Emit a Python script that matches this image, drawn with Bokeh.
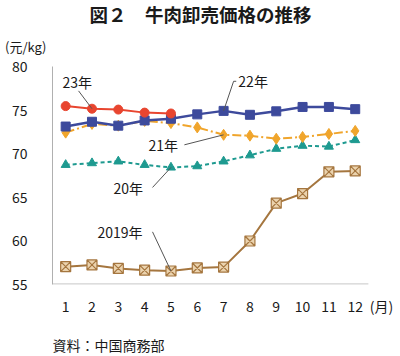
from bokeh.plotting import figure
from bokeh.models import Range1d, FixedTicker, Label, LinearAxis
from bokeh.layouts import column
from bokeh.embed import file_html
from bokeh.resources import INLINE

months = list(range(1, 13))
month_labels = [str(m) for m in months]
unit_tick = 13
unit_x_label = "(月)"
unit_y_label = "(元/kg)"
y_ticks = [55, 60, 65, 70, 75, 80]
title_text = "図２　牛肉卸売価格の推移"
source_text = "資料：中国商務部"

v2019 = [57.0, 57.2, 56.8, 56.6, 56.5, 56.85, 56.95, 59.95, 64.3, 65.4, 67.9, 68.0]
v2020 = [68.7, 68.9, 69.1, 68.7, 68.4, 68.55, 69.1, 69.8, 70.55, 70.9, 70.8, 71.55]
v2021 = [72.4, 73.4, 73.2, 73.75, 73.5, 73.0, 72.15, 72.05, 71.7, 71.9, 72.25, 72.6]
v2022 = [73.1, 73.65, 73.2, 73.8, 74.0, 74.5, 74.9, 74.45, 74.85, 75.35, 75.35, 75.1]
v2023_m = [1, 2, 3, 4, 5]
v2023 = [75.45, 75.15, 75.05, 74.7, 74.6]

FONT = "Noto Sans CJK JP"
TXT = "#1a1a1a"
W = 400
LEFT = 52

def text_strip(h):
    # frame spans pixel columns LEFT..W, so x data == page pixel x
    f = figure(width=W, height=h, output_backend="svg", toolbar_location=None,
               x_axis_type=None, y_axis_type=None, title_location=None,
               x_range=Range1d(LEFT, W), y_range=Range1d(0, h),
               min_border_left=LEFT, min_border_right=0, min_border_top=0, min_border_bottom=0)
    f.outline_line_color = None
    f.background_fill_color = "white"
    f.border_fill_color = "white"
    return f

# ---- top strip: title and unit label
TOP_H = 56
top = text_strip(TOP_H)
top.add_layout(Label(x=200, y=TOP_H - 13, text=title_text, text_font=FONT, text_font_size="18.5px",
                     text_font_style="bold", text_color=TXT,
                     text_align="center", text_baseline="middle"))
unit_axis = LinearAxis(ticker=FixedTicker(ticks=[TOP_H - 47]),
                       major_label_overrides={TOP_H - 47: unit_y_label},
                       axis_line_color=None, major_tick_line_color=None,
                       minor_tick_line_color=None, major_label_standoff=0,
                       major_label_text_font=FONT, major_label_text_font_size="13px",
                       major_label_text_color=TXT)
top.add_layout(unit_axis, "left")

# ---- main chart
x_lo, x_hi = 0.5, 12.5
y_lo, y_hi = 55, 80

p = figure(width=W, height=262, output_backend="svg", toolbar_location=None,
           title_location=None,
           x_range=Range1d(x_lo, 13.72), y_range=Range1d(y_lo - 0.05, y_hi),
           min_border_left=LEFT, min_border_right=0, min_border_top=10, min_border_bottom=29)
p.outline_line_color = None
p.xgrid.grid_line_color = None
p.ygrid.grid_line_color = None
p.background_fill_color = "white"

for ax in (p.xaxis[0], p.yaxis[0]):
    ax.axis_line_color = "#b0b0b0"
    ax.axis_line_width = 1
    ax.major_tick_line_color = None
    ax.minor_tick_line_color = None
    ax.major_label_text_font = FONT
    ax.major_label_text_font_size = "14px"
    ax.major_label_text_color = TXT
p.xaxis.axis_line_color = None
p.xaxis.ticker = FixedTicker(ticks=months + [unit_tick])
ov = {m: l for m, l in zip(months, month_labels)}
ov[unit_tick] = unit_x_label
p.xaxis.major_label_overrides = ov
p.xaxis.major_label_standoff = 5
p.yaxis.ticker = FixedTicker(ticks=y_ticks)
p.yaxis.major_label_standoff = 19

# x baseline limited to the month span
p.line([x_lo, x_hi], [y_lo, y_lo], line_color="#b0b0b0", line_width=1)

# series
p.line(months, v2019, line_color="#A5763F", line_width=2)
p.scatter(months, v2019, marker="square_x", size=10, line_color="#A5763F",
          fill_color="#EBD3AE", line_width=1.2)

p.line(months, v2020, line_color="#1E9A90", line_width=2, line_dash="4 3")
p.scatter(months, v2020, marker="triangle", size=9, line_color="#1E9A90", fill_color="#1E9A90")

p.line(months, v2021, line_color="#F0A52C", line_width=2, line_dash="9 3 2 3")
p.scatter(months, v2021, marker="diamond", size=11, line_color="#F0A52C", fill_color="#F0A52C")

p.line(months, v2022, line_color="#3D4A9C", line_width=2.5)
p.scatter(months, v2022, marker="square", size=9, line_color="#3D4A9C", fill_color="#3D4A9C")

p.line(v2023_m, v2023, line_color="#E8452F", line_width=2)
p.scatter(v2023_m, v2023, marker="circle", size=9, line_color="#E8452F", fill_color="#E8452F")

# series labels with leader lines
LC = "#555555"
def series_label(text, tx, ty, lx, ly, px, py, mid=None):
    p.add_layout(Label(x=tx, y=ty, text=text, text_font=FONT, text_font_size="14px",
                       text_color=TXT, text_baseline="middle", text_align="left"))
    xs = [lx] + ([mid[0]] if mid else []) + [px]
    ys = [ly] + ([mid[1]] if mid else []) + [py]
    p.line(xs, ys, line_color=LC, line_width=1)

series_label("23年", 0.88, 78.2, 1.49, 77.2, 2, v2023[1])
series_label("22年", 7.56, 78.3, 7.48, 78.3, 7, v2022[6], mid=(7.38, 78.3))
series_label("21年", 4.15, 71.0, 5.51, 71.0, 7, v2021[6])
series_label("20年", 2.82, 66.0, 4.3, 66.1, 5, v2020[4])
series_label("2019年", 2.21, 60.95, 4.3, 61.0, 5, v2019[4])

# ---- bottom strip: source
BOT_H = 38
bottom = text_strip(BOT_H)
bottom.add_layout(Label(x=LEFT, y=BOT_H - 26, text=source_text, text_font=FONT,
                        text_font_size="14px", text_color=TXT,
                        text_align="left", text_baseline="middle"))

layout = column(top, p, bottom, spacing=0)
open("out.html", "w").write(file_html(layout, INLINE))
